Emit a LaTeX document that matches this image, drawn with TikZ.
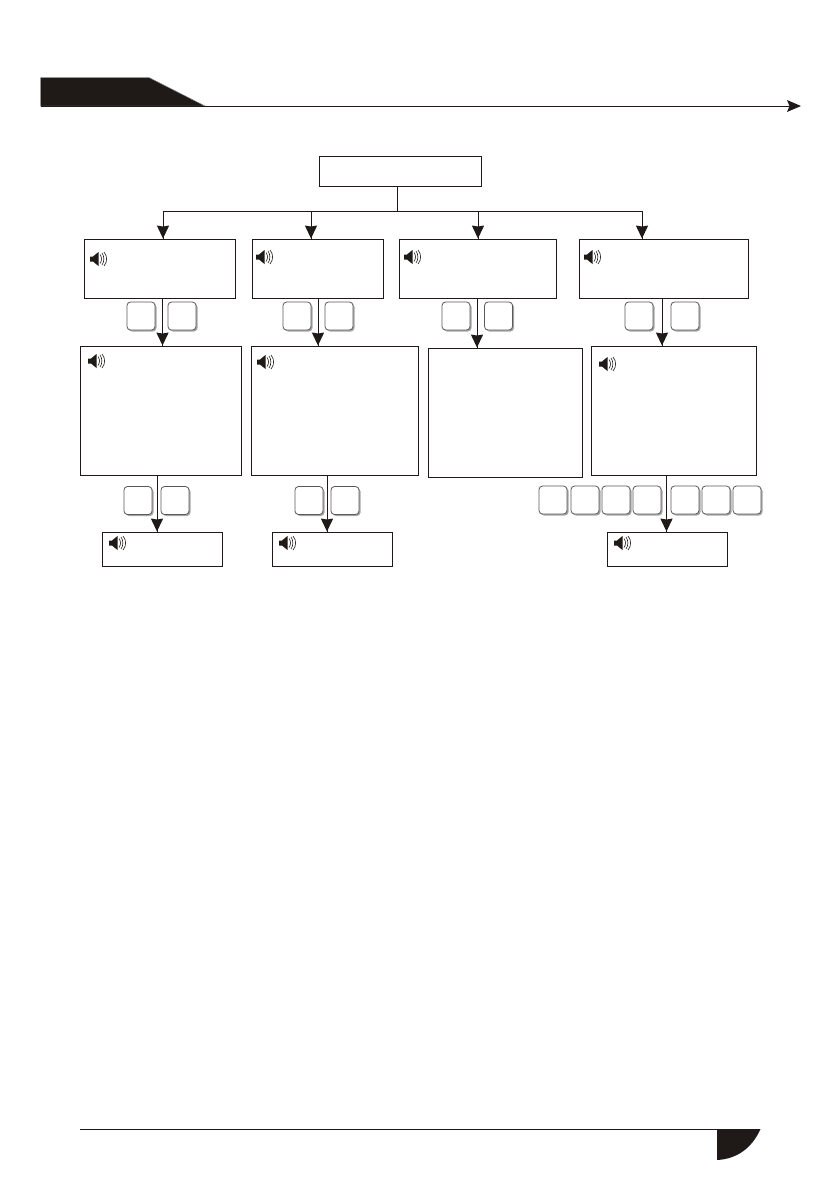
\documentclass[tikz,border=0pt]{standalone}
\usetikzlibrary{calc}
\definecolor{ink}{HTML}{1F1A17}
\tikzset{
  box/.style={draw=ink,line width=1pt,fill=white,rectangle,anchor=north west,inner sep=0pt,outer sep=0pt},
  keycap/.style={draw=black!65,line width=0.8pt,fill=white,rounded corners=3.5pt,rectangle,minimum width=28pt,minimum height=28pt,inner sep=0pt,outer sep=0pt,anchor=north west},
  keyshade/.style={fill=black!35,rounded corners=3.5pt,rectangle,minimum width=28pt,minimum height=28pt,inner sep=0pt,outer sep=0pt,anchor=north west},
  link/.style={draw=ink,line width=1pt},
  head/.style={fill=ink,draw=none},
  speaker/.pic={
    \fill[ink] (0,5.5)--(3,5.5)--(8.5,1)--(8.5,15)--(3,10.5)--(0,10.5)--cycle;
    \draw[ink,line width=0.6pt] (10,3.5) .. controls (12,6) and (12,10) .. (10,12.5);
    \draw[ink,line width=0.6pt] (12,2) .. controls (14.5,5.5) and (14.5,10.5) .. (12,14);
    \draw[ink,line width=0.6pt] (14,1) .. controls (17.5,5) and (17.5,11) .. (14,15);
  }
}
\newcommand{\keyat}[3]{%
  \node[keyshade] at (#2+1.5,#3+1.5) {};
  \node[keycap] (#1) at (#2,#3) {};}
\newcommand{\tip}[1]{% arrowhead with tip at named coordinate
  \fill[head] (#1) -- ++(-6.2,-13) -- ++(6.2,1) -- ++(6.2,-1) -- cycle;}
\newcommand{\linkdown}[3]{% from node, to node, at x coordinate
  \draw[link] (#1.south -| #3) -- (#2.north -| #3);
  \coordinate (tmp) at ($(#2.north -| #3)+(0,-1)$);
  \tip{tmp}}
\begin{document}
\begin{tikzpicture}[x=1pt,y=-1pt]
\useasboundingbox (0,0) rectangle (840,1192);
% header band
\fill[ink,draw=black!45,line width=0.5pt] (40.5,77.5) -- (149,77.5) -- (205,106) -- (40.5,106) -- cycle;
\coordinate (hs) at (41,106);
\coordinate (he) at (801,106);
\draw[link] (hs) -- (790,106);
\fill[head] (he) -- (787,100) -- (789.5,106) -- (787,112) -- cycle;
% footer
\coordinate (fs) at (80,1129.5);
\coordinate (fe) at (717,1129.5);
\draw[link] (fs) -- (fe);
\fill[ink] (717,1129) -- (760.5,1129) .. controls (752,1148) and (737,1159) .. (717,1160) -- cycle;
% boxes
\node[box,minimum width=162pt,minimum height=30pt] (top) at (319.5,156) {};
\node[box,minimum width=151pt,minimum height=59pt] (a1) at (84.5,239.5) {};
\node[box,minimum width=131pt,minimum height=59pt] (b1) at (252.5,239.5) {};
\node[box,minimum width=157pt,minimum height=59pt] (c1) at (399.5,239.5) {};
\node[box,minimum width=169pt,minimum height=59pt] (d1) at (579.5,239.5) {};
\node[box,minimum width=161pt,minimum height=129pt] (a2) at (80.5,346.5) {};
\node[box,minimum width=167pt,minimum height=129pt] (b2) at (251.5,346.5) {};
\node[box,minimum width=154pt,minimum height=129pt] (c2) at (428.5,348.5) {};
\node[box,minimum width=165pt,minimum height=129pt] (d2) at (591.5,346.5) {};
\node[box,minimum width=120pt,minimum height=34pt] (a3) at (102.5,532.5) {};
\node[box,minimum width=120pt,minimum height=34pt] (b3) at (272.5,532.5) {};
\node[box,minimum width=120pt,minimum height=34pt] (d3) at (607.5,532.5) {};
% x positions
\coordinate (xa) at (163,0);\coordinate (xb) at (311,0);\coordinate (xc) at (478,0);\coordinate (xd) at (642,0);
\coordinate (ya) at (162.5,0);\coordinate (yb) at (318,0);\coordinate (yc) at (477,0);\coordinate (yd) at (662,0);
\coordinate (za) at (157,0);\coordinate (zb) at (327,0);\coordinate (zd) at (666.5,0);
% tree
\coordinate (hub) at (397,211.5);
\draw[link] (top.south -| hub) -- (hub);
\draw[link,line cap=rect] (hub -| xa) -- (hub -| xd);
\foreach \n/\x in {a1/xa,b1/xb,c1/xc,d1/xd}{\linkdown{hub}{\n}{\x}}
% keys
\keyat{k1}{127}{302}\keyat{k2}{168}{302}
\keyat{k3}{283}{302}\keyat{k4}{325}{302}
\keyat{k5}{442}{302}\keyat{k6}{484.5}{302}
\keyat{k7}{625}{302}\keyat{k8}{671}{302}
\keyat{m1}{124}{486.5}\keyat{m2}{161}{486.5}
\keyat{m3}{295}{486.5}\keyat{m4}{331}{486.5}
\keyat{n1}{539}{486}\keyat{n2}{571}{486}\keyat{n3}{602}{486}\keyat{n4}{633}{486}
\keyat{n5}{671}{486}\keyat{n6}{702}{486}\keyat{n7}{733}{486}
% level links
\linkdown{a1}{a2}{ya}\linkdown{b1}{b2}{yb}\linkdown{c1}{c2}{yc}\linkdown{d1}{d2}{yd}
\linkdown{a2}{a3}{za}\linkdown{b2}{b3}{zb}\linkdown{d2}{d3}{zd}
% speakers
\foreach \x/\y in {90/251,256/249,404/249,584/249,88/353,257/354,599/356,109/535,279/535,614/535}
  \pic at (\x,\y) {speaker};
\end{tikzpicture}
\end{document}
